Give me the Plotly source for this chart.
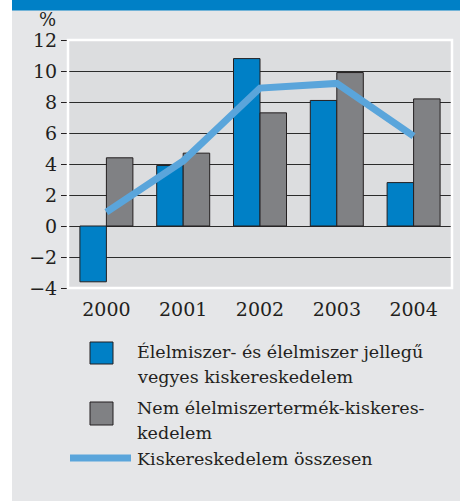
import plotly.graph_objects as go

# data (%)
years = ["2000", "2001", "2002", "2003", "2004"]
food_retail = [-3.6, 3.9, 10.8, 8.1, 2.8]
nonfood_retail = [4.4, 4.7, 7.3, 9.9, 8.2]
retail_total = [0.9, 4.2, 8.9, 9.2, 5.8]

legend_lines = [
    ["Élelmiszer- és élelmiszer jellegű", "vegyes kiskereskedelem"],
    ["Nem élelmiszertermék-kiskeres-", "kedelem"],
    ["Kiskereskedelem összesen"],
]

BLUE = "#0080c6"
GREY = "#808184"
LINE = "#5aa5db"
DARK = "#231f20"
BG = "#e5e6e8"
FONT = "DejaVu Serif"

# plot area in pixels: x 68..452, y 40..288
L, R, T, B = 68, 452, 40, 288
W, H = 460, 501


def fx(p):
    return (p - L) / (R - L)


def fy(p):
    return (B - p) / (B - T)


fig = go.Figure()
fig.add_trace(go.Bar(x=years, y=food_retail, marker=dict(color=BLUE, line=dict(color=DARK, width=1)),
                     name=legend_lines[0][0], showlegend=False))
fig.add_trace(go.Bar(x=years, y=nonfood_retail, marker=dict(color=GREY, line=dict(color=DARK, width=1)),
                     name=legend_lines[1][0], showlegend=False))
fig.add_trace(go.Scatter(x=years, y=retail_total, mode="lines", line=dict(color=LINE, width=7),
                         name=legend_lines[2][0], showlegend=False))

shapes = [
    # white strip on the left and blue band on top
    dict(type="rect", xref="paper", yref="paper", x0=fx(0), x1=fx(12), y0=fy(H + 60), y1=fy(0),
         fillcolor="white", line_width=0, layer="below"),
    dict(type="rect", xref="paper", yref="paper", x0=fx(12), x1=fx(W), y0=fy(10.5), y1=fy(0),
         fillcolor=BLUE, line_width=0, layer="below"),
    # white frame round the plot area
    dict(type="rect", xref="paper", yref="paper", x0=0, x1=1, y0=0, y1=1,
         line=dict(color="white", width=2.5), layer="above"),
    # legend glyphs
    dict(type="rect", xref="paper", yref="paper", x0=fx(90), x1=fx(113), y0=fy(364), y1=fy(342),
         fillcolor=BLUE, line=dict(color=DARK, width=1)),
    dict(type="rect", xref="paper", yref="paper", x0=fx(90), x1=fx(113), y0=fy(425), y1=fy(402),
         fillcolor=GREY, line=dict(color=DARK, width=1)),
    dict(type="line", xref="paper", yref="paper", x0=fx(70), x1=fx(131), y0=fy(458), y1=fy(458),
         line=dict(color=LINE, width=7)),
]

annotations = [dict(text="%", xref="paper", yref="paper", x=fx(47.5), y=fy(19.5),
                    xanchor="center", yanchor="middle", showarrow=False,
                    font=dict(family=FONT, size=18, color=DARK))]
line_y = [[352, 377], [408, 433], [459]]
for lines, ys in zip(legend_lines, line_y):
    for txt, yy in zip(lines, ys):
        annotations.append(dict(text=txt, xref="paper", yref="paper", x=fx(135), y=fy(yy),
                                xanchor="left", yanchor="middle", showarrow=False,
                                font=dict(family=FONT, size=17.5, color=DARK)))

fig.update_layout(
    width=W, height=H, autosize=False,
    margin=dict(l=L, r=W - R, t=T, b=H - B, pad=0),
    paper_bgcolor=BG, plot_bgcolor="#dcdddf",
    barmode="group", bargap=0.31, bargroupgap=0,
    font=dict(family=FONT, size=19, color=DARK),
    shapes=shapes, annotations=annotations,
    xaxis=dict(showgrid=False, ticks="", showline=False, tickfont=dict(size=19),
               ticklabelstandoff=8),
    yaxis=dict(range=[-4, 12], dtick=2, ticks="outside", ticklen=6, tickcolor=DARK,
               showgrid=True, gridcolor="#2b2b2b", gridwidth=1, zeroline=False,
               showline=False, tickfont=dict(size=19)),
)

# drop the page's default body margin so the figure sits at the window's corner
fig.write_html("out.html", config={"displayModeBar": False},
               post_script="document.body.style.margin='0';")
